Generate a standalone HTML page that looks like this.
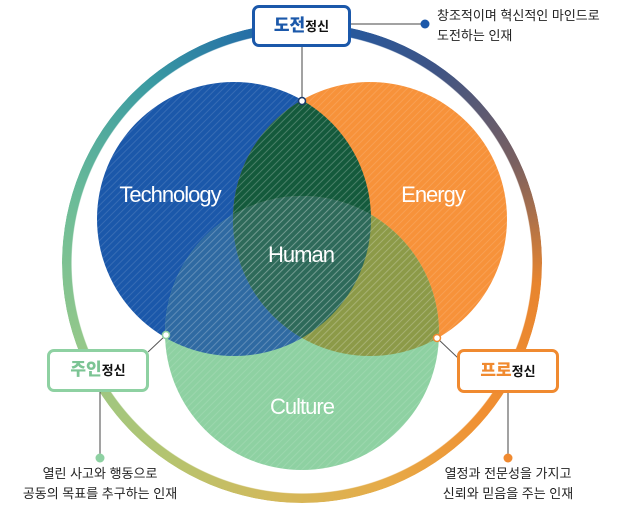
<!DOCTYPE html>
<html><head><meta charset="utf-8"><style>
html,body{margin:0;padding:0;background:#fff;width:642px;height:509px;overflow:hidden;position:relative;font-family:"Liberation Sans","Noto Sans CJK KR",sans-serif}
.ring{position:absolute;left:62px;top:23px;width:480px;height:480px;border-radius:50%;
background:conic-gradient(#1b5aa8 0deg,#3f5484 35deg,#7a6060 65deg,#e8852f 95deg,#f08f32 130deg,#e6ab48 160deg,#d4b85a 185deg,#b4c470 215deg,#94c88a 250deg,#6cbc98 285deg,#3a9aa2 320deg,#1b5aa8 360deg);
-webkit-mask:radial-gradient(circle,transparent 230px,#000 231px);mask:radial-gradient(circle,transparent 230px,#000 231px)}
svg{position:absolute;left:0;top:0}
.box{position:absolute;background:#fff;border:3px solid;border-radius:7px;box-sizing:border-box;text-align:center;font-weight:bold;font-size:13px;color:#111}
.box b{font-size:17px}
.t{position:absolute;font-size:13px;color:#222;line-height:20px}
.lbl{position:absolute;color:#fff;font-size:22px;letter-spacing:-1px;transform:translate(-50%,-50%);white-space:nowrap}
</style></head><body>
<div class="ring"></div>
<svg width="642" height="509">
<defs>
<pattern id="st" width="5" height="5" patternUnits="userSpaceOnUse" patternTransform="rotate(45)"><line x1="0" y1="0" x2="0" y2="5" stroke="#fff" stroke-opacity="0.12" stroke-width="2"/></pattern>
<clipPath id="cT"><circle cx="234" cy="219" r="137"/></clipPath>
<clipPath id="cE"><circle cx="370" cy="219" r="137"/></clipPath>
<clipPath id="cC"><circle cx="302" cy="333" r="137"/></clipPath>
</defs>
<circle cx="234" cy="219" r="137" fill="#1b58aa"/>
<circle cx="370" cy="219" r="137" fill="#f7923a"/>
<circle cx="302" cy="333" r="137" fill="#8ed1a2"/>
<g clip-path="url(#cT)"><circle cx="370" cy="219" r="137" fill="#145a3c"/><circle cx="302" cy="333" r="137" fill="#2f6aa2"/></g>
<g clip-path="url(#cE)"><circle cx="302" cy="333" r="137" fill="#8c9a48"/></g>
<g clip-path="url(#cT)"><g clip-path="url(#cE)"><circle cx="302" cy="333" r="137" fill="#2e6a5a"/></g></g>
<circle cx="234" cy="219" r="137" fill="url(#st)"/>
<circle cx="370" cy="219" r="137" fill="url(#st)"/>
<circle cx="302" cy="333" r="137" fill="url(#st)"/>
<line x1="350" y1="24" x2="425" y2="24" stroke="#444" stroke-width="1"/>
<circle cx="425" cy="24" r="4.5" fill="#1b58aa"/>
<line x1="302" y1="46" x2="302" y2="101" stroke="#444"/>
<circle cx="302" cy="101" r="3.5" fill="#fff" stroke="#1b3a6a" stroke-width="1.5"/>
<line x1="166" y1="335" x2="148" y2="352" stroke="#555"/>
<circle cx="166" cy="335" r="3.5" fill="#fff" stroke="#8ed1a2" stroke-width="1.5"/>
<line x1="100" y1="392" x2="100" y2="458" stroke="#444"/>
<circle cx="100" cy="458" r="4.5" fill="#8ed1a2"/>
<line x1="437" y1="338" x2="458" y2="358" stroke="#555"/>
<circle cx="437" cy="338" r="3.5" fill="#fff" stroke="#f08a30" stroke-width="1.5"/>
<line x1="508" y1="393" x2="508" y2="458" stroke="#444"/>
<circle cx="508" cy="458" r="4.5" fill="#f08a30"/>
</svg>
<div class="lbl" style="left:170px;top:195px">Technology</div>
<div class="lbl" style="left:433px;top:195px">Energy</div>
<div class="lbl" style="left:301px;top:255px">Human</div>
<div class="lbl" style="left:302px;top:407px">Culture</div>
<div class="box" style="left:252px;top:5px;width:99px;height:42px;border-color:#1b58aa;line-height:35px"><b style="color:#1b58aa">도전</b>정신</div>
<div class="box" style="left:47px;top:349px;width:102px;height:43px;border-color:#8ed1a2;line-height:36px"><b style="color:#7cc494">주인</b>정신</div>
<div class="box" style="left:457px;top:349px;width:102px;height:44px;border-color:#f08a30;line-height:37px"><b style="color:#f08a30">프로</b>정신</div>
<div class="t" style="left:437px;top:6px">창조적이며 혁신적인 마인드로<br>도전하는 인재</div>
<div class="t" style="left:0;width:200px;top:464px;text-align:center">열린 사고와 행동으로<br>공동의 목표를 추구하는 인재</div>
<div class="t" style="left:408px;width:200px;top:464px;text-align:center">열정과 전문성을 가지고<br>신뢰와 믿음을 주는 인재</div>
</body></html>
